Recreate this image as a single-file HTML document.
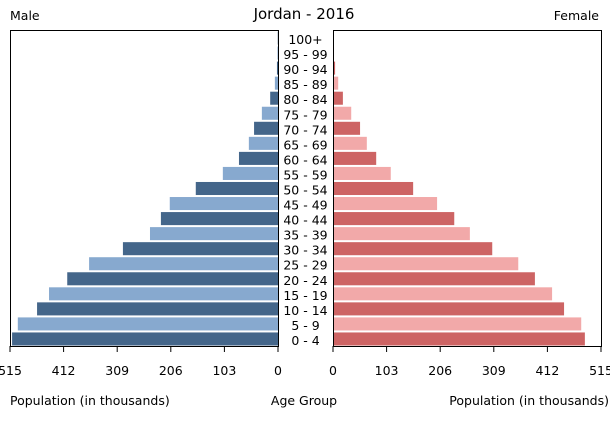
<!DOCTYPE html>
<html><head><meta charset="utf-8"><style>
body{margin:0;background:#fff;font-family:"Liberation Sans","DejaVu Sans",sans-serif}
svg text{font-family:"DejaVu Sans","Liberation Sans",sans-serif}
</style></head><body>
<svg id="c" width="610" height="425" xmlns="http://www.w3.org/2000/svg">
<text x="304" y="19" text-anchor="middle" font-size="15">Jordan - 2016</text>
<text x="10" y="20" font-size="12.5">Male</text>
<text x="599" y="20" font-size="12.5" text-anchor="end">Female</text>
<text x="10" y="405" font-size="12.5">Population (in thousands)</text>
<text x="304" y="405" font-size="12.5" text-anchor="middle">Age Group</text>
<text x="609" y="405" font-size="12.5" text-anchor="end">Population (in thousands)</text>
<g id="g"></g>
</svg>
<script>
const ages=["0 - 4","5 - 9","10 - 14","15 - 19","20 - 24","25 - 29","30 - 34","35 - 39","40 - 44","45 - 49","50 - 54","55 - 59","60 - 64","65 - 69","70 - 74","75 - 79","80 - 84","85 - 89","90 - 94","95 - 99","100+"];
const male=[511,500,463,440,405,363,298,246,225,208,158,106,75,56,46,31,15,6,2,1,0.5];
const female=[484,477,444,421,388,356,306,263,233,200,154,111,83,65,52,35,19,10,4,2,1];
const ticks=[515,412,309,206,103,0];
const NS="http://www.w3.org/2000/svg";
const gEl=document.getElementById('g');
const L0=278,L1=10,R0=333,R1=601,yTop=30,yBot=346,maxV=515;
const xl=v=>L0-(L0-L1)*v/maxV, xr=v=>R0+(R1-R0)*v/maxV;
const rowH=(yBot-yTop)/ages.length;
const yRow=i=>yBot-(i+1)*rowH;
function mk(t,a){const e=document.createElementNS(NS,t);for(const k in a)e.setAttribute(k,a[k]);gEl.appendChild(e);return e;}
ages.forEach((a,i)=>{
 const y=yRow(i)+1.5,h=rowH-2;
 const m=mk('rect',{x:xl(male[i]),y:y,width:L0-xl(male[i]),height:h,fill:i%2?'#87a9cf':'#44668a'});
 
 
 const f=mk('rect',{x:R0,y:y,width:xr(female[i])-R0,height:h,fill:i%2?'#f2a9a9':'#cd6464'});
 
 
 const t=mk('text',{x:305.5,y:yRow(i)+rowH/2+6.5,'font-size':12.5,'text-anchor':'middle'});
 t.textContent=a;
 
 
});
[[L1,L0],[R0,R1]].forEach((p,k)=>{
 const r=mk('rect',{x:p[0]+0.5,y:yTop+0.5,width:p[1]-p[0],height:yBot-yTop,fill:'none',stroke:'#000','stroke-width':1});
 
 
});
ticks.forEach(v=>{
 [xl(v),xr(v)].forEach((x,k)=>{
  mk('line',{x1:x,x2:x,y1:yBot,y2:yBot+6,stroke:'#000'});
  const t=mk('text',{x:x,y:375,'font-size':12.5,'text-anchor':'middle'});
  t.textContent=v;
  
  
 });
});
</script>
</body></html>
